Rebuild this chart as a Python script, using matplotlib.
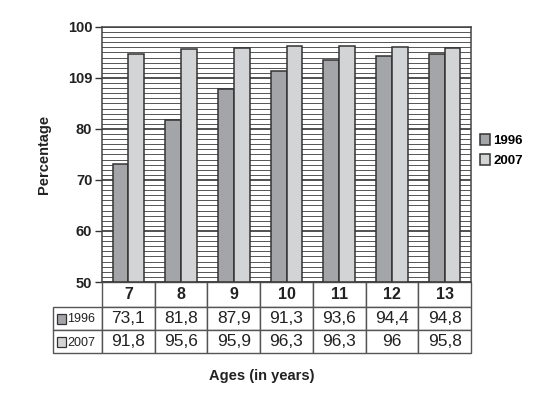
import matplotlib
matplotlib.use("Agg")
import matplotlib.pyplot as plt
from matplotlib.patches import Rectangle
import numpy as np

plt.rcParams['font.family'] = ['Liberation Sans', 'DejaVu Sans']

# data
ages = ['7', '8', '9', '10', '11', '12', '13']
values_1996 = [73.1, 81.8, 87.9, 91.3, 93.6, 94.4, 94.8]
values_2007 = [91.8, 95.6, 95.9, 96.3, 96.3, 96, 95.8]
# bar heights as drawn in the original (first 2007 bar is drawn higher than its table value)
bars_1996 = [73.1, 81.8, 87.9, 91.3, 93.6, 94.4, 94.8]
bars_2007 = [94.7, 95.6, 95.9, 96.3, 96.3, 96.0, 95.8]
series = ['1996', '2007']
ytick_values = [50, 60, 70, 80, 90, 100]
ytick_labels = ['50', '60', '70', '80', '109', '100']

COL_1996 = '#a4a5a8'
COL_2007 = '#d3d4d6'
EDGE = '#333333'
TXT = '#222222'


def fmt(v):
    return f"{v:g}".replace('.', ',')


W, H = 538, 399
ax_w, ax_h = 369, 255
fig = plt.figure(figsize=(W / 100, H / 100), dpi=100)
ax = fig.add_axes([102 / W, 1 - 282 / H, ax_w / W, ax_h / H])

x = np.arange(len(ages))
bw = 0.3
ax.bar(x - bw / 2, [v - 50 for v in bars_1996], bw, bottom=50, color=COL_1996,
       edgecolor=EDGE, linewidth=1.1, label=series[0], zorder=3)
ax.bar(x + bw / 2, [v - 50 for v in bars_2007], bw, bottom=50, color=COL_2007,
       edgecolor=EDGE, linewidth=1.1, label=series[1], zorder=3)

ax.set_xlim(-0.5, len(ages) - 0.5)
ax.set_ylim(50, 100)
ax.set_xticks([])
ax.set_yticks(ytick_values)
ax.set_yticklabels(ytick_labels, fontsize=10.5, fontweight='bold', color=TXT)
ax.set_yticks(np.arange(50, 101, 1), minor=True)
ax.tick_params(axis='y', which='major', length=5, width=1, color='#333333', pad=2)
ax.tick_params(axis='y', which='minor', length=0)
ax.grid(axis='y', which='minor', color='#555555', linewidth=0.7, zorder=0)
ax.grid(axis='y', which='major', color='#222222', linewidth=1.1, zorder=0)
ax.set_axisbelow(True)
for side in ['left', 'right', 'top', 'bottom']:
    ax.spines[side].set_color('#444444')
    ax.spines[side].set_linewidth(1.1)

ax.set_ylabel('Percentage', fontsize=10.5, fontweight='bold', color=TXT, labelpad=12)

ax.legend(loc='center left', bbox_to_anchor=(1.0, 0.515), frameon=False,
          borderpad=0.2, borderaxespad=0.5,
          handlelength=0.75, handleheight=0.85, handletextpad=0.25,
          labelspacing=0.55, prop={'size': 9.5, 'weight': 'bold'})

# data table under the axes (drawn cell by cell in axes coordinates)
lab_w = 49 / ax_w
col_w = 1 / len(ages)
row_edges = [0, -25 / ax_h, -48 / ax_h, -71 / ax_h]


def cell(x0, width, r):
    y0, y1 = row_edges[r + 1], row_edges[r]
    ax.add_patch(Rectangle((x0, y0), width, y1 - y0, transform=ax.transAxes,
                           clip_on=False, facecolor='white', edgecolor='#555555',
                           linewidth=1.0, zorder=1))
    return (y0 + y1) / 2


for j, a in enumerate(ages):
    yc = cell(j * col_w, col_w, 0)
    ax.text((j + 0.5) * col_w, yc, a, transform=ax.transAxes, ha='center',
            va='center', fontsize=11.5, fontweight='bold', color=TXT)

for i, (vals, col) in enumerate(zip([values_1996, values_2007], [COL_1996, COL_2007])):
    yc = cell(-lab_w, lab_w, i + 1)
    ax.add_patch(Rectangle((-lab_w + 4 / ax_w, yc - 5.5 / ax_h), 9 / ax_w, 10 / ax_h,
                           transform=ax.transAxes, clip_on=False, facecolor=col,
                           edgecolor=EDGE, linewidth=0.9, zorder=2))
    ax.text(-lab_w + 14 / ax_w, yc - 1 / ax_h, series[i], transform=ax.transAxes,
            ha='left', va='center', fontsize=9, color=TXT)
    for j, v in enumerate(vals):
        cell(j * col_w, col_w, i + 1)
        ax.text((j + 0.5) * col_w, yc, fmt(v), transform=ax.transAxes, ha='center',
                va='center', fontsize=12.5, color=TXT)

ax.text((1 - lab_w) / 2, -94 / ax_h, 'Ages (in years)', transform=ax.transAxes,
        ha='center', va='center', fontsize=10.5, fontweight='bold', color=TXT)

fig.savefig('out.png', dpi=100)
